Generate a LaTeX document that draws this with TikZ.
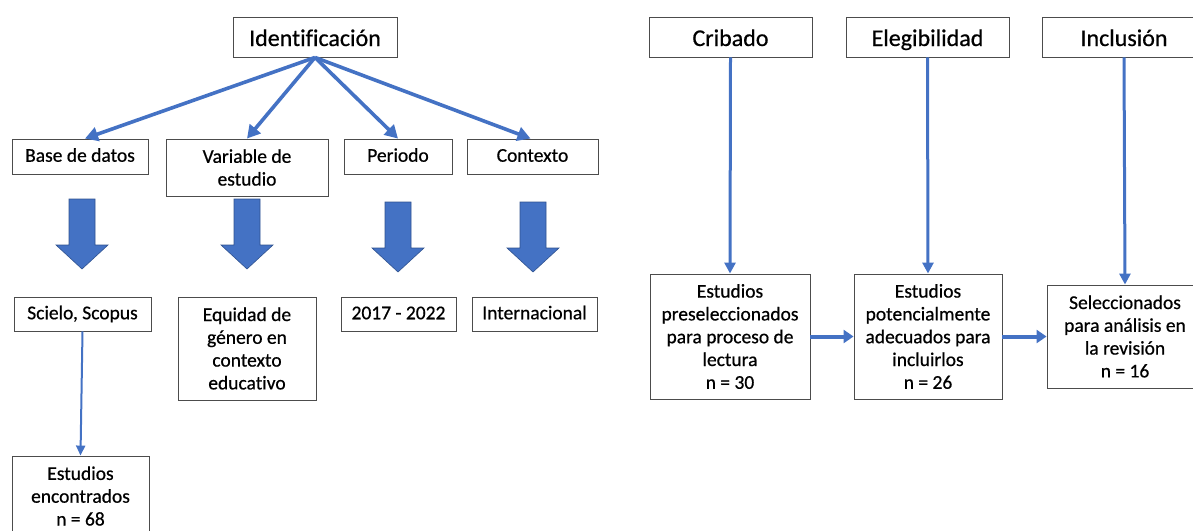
\documentclass[tikz,border=0pt]{standalone}
\usepackage{fontspec}
\setmainfont{Carlito}[Ligatures=NoCommon, FakeBold=0.6]
\usepackage{tikz}
\usetikzlibrary{arrows.meta}

\definecolor{azul}{HTML}{4472C4}
\definecolor{azulborde}{HTML}{2F528F}

\tikzset{
	caja/.style={rectangle, draw=black!70, line width=0.9pt, fill=white, align=center,
		inner sep=0pt, font=\fontsize{19.5}{22.8}\selectfont},
	una/.style={caja, text height=14.5pt, text depth=4pt},
	titulo/.style={caja, minimum height=40pt, text height=20pt, text depth=2pt,
		font=\fontsize{24}{28}\selectfont},
	abanico/.style={draw=azul, line width=3.6pt, -{Triangle[length=13pt,width=14pt]}},
	bajada/.style={draw=azul, line width=3pt, -{Triangle[length=11pt,width=11pt]}},
	paso/.style={draw=azul, line width=4pt, -{Triangle[length=10pt,width=13pt]}},
	fina/.style={draw=azul, line width=2pt, -{Triangle[length=10pt,width=9pt]}}
}

\begin{document}
\begin{tikzpicture}[x=1pt, y=-1pt]

	\useasboundingbox (0,0) rectangle (1193,530);
	\clip (0,0) rectangle (1193,530);

	% identificacion
	\node[titulo, minimum width=164pt] (ident) at (315,37) {Identificación};
	\node[una, minimum width=136pt, minimum height=35pt] (base) at (80,156.5) {Base de datos};
	\node[caja, minimum width=162pt, minimum height=57pt] (var) at (247,167.5) {Variable de\\estudio};
	\node[una, minimum width=108pt, minimum height=35pt] (periodo) at (398,156.5) {Periodo};
	\node[una, minimum width=131pt, minimum height=35pt] (contexto) at (532.5,156.5) {Contexto};

	\draw[abanico] (ident.south) -- ([xshift=5pt]base.north);
	\draw[abanico] (ident.south) -- (var.north);
	\draw[abanico] (ident.south) -- (periodo.north);
	\draw[abanico] (ident.south) -- ([xshift=-2pt]contexto.north);

	% flechas de bloque
	\foreach \x/\t in {82/199, 247/199, 398/202, 533/202}
		\filldraw[fill=azul, draw=azulborde, line width=0.6pt]
			({\x-13},\t) -- ({\x+13},\t) -- ({\x+13},{\t+46}) -- ({\x+26},{\t+46})
			-- (\x,{\t+70}) -- ({\x-26},{\t+46}) -- ({\x-13},{\t+46}) -- cycle;

	\node[una, minimum width=137pt, minimum height=34pt] (scielo) at (82.5,314) {Scielo, Scopus};
	\node[caja, minimum width=138pt, minimum height=103pt] (equidad) at (247,348.5) {Equidad de\\género en\\contexto\\educativo};
	\node[una, minimum width=115pt, minimum height=34pt] (anios) at (398.5,314) {2017 - 2022};
	\node[una, minimum width=125pt, minimum height=34pt] (internac) at (534.5,314) {Internacional};
	\node[caja, minimum width=137pt, minimum height=80pt] (encontr) at (80.5,496) {Estudios\\encontrados\\n = 68};

	\draw[fina] (scielo.south) -- (encontr.north);

	% cribado, elegibilidad, inclusion
	\node[titulo, minimum width=163pt] (cribado) at (730.5,37) {Cribado};
	\node[titulo, minimum width=163pt] (elegib) at (927.5,37) {Elegibilidad};
	\node[titulo, minimum width=163pt] (inclus) at (1124,37) {Inclusión};

	\node[caja, minimum width=160pt, minimum height=125pt] (presel) at (730,336.5) {Estudios\\preseleccionados\\para proceso de\\lectura\\n = 30};
	\node[caja, minimum width=148pt, minimum height=125pt] (potenc) at (928,336.5) {Estudios\\potencialmente\\adecuados para\\incluirlos\\n = 26};
	\node[caja, minimum width=156pt, minimum height=103pt] (selecc) at (1125,336.5) {Seleccionados\\para análisis en\\la revisión\\n = 16};

	\draw[bajada] (cribado.south) -- (presel.north);
	\draw[bajada] (elegib.south) -- (potenc.north);
	\draw[bajada] (inclus.south) -- (selecc.north);
	\draw[paso] (presel.east) -- (potenc.west);
	\draw[paso] (potenc.east) -- (selecc.west);

\end{tikzpicture}
\end{document}
